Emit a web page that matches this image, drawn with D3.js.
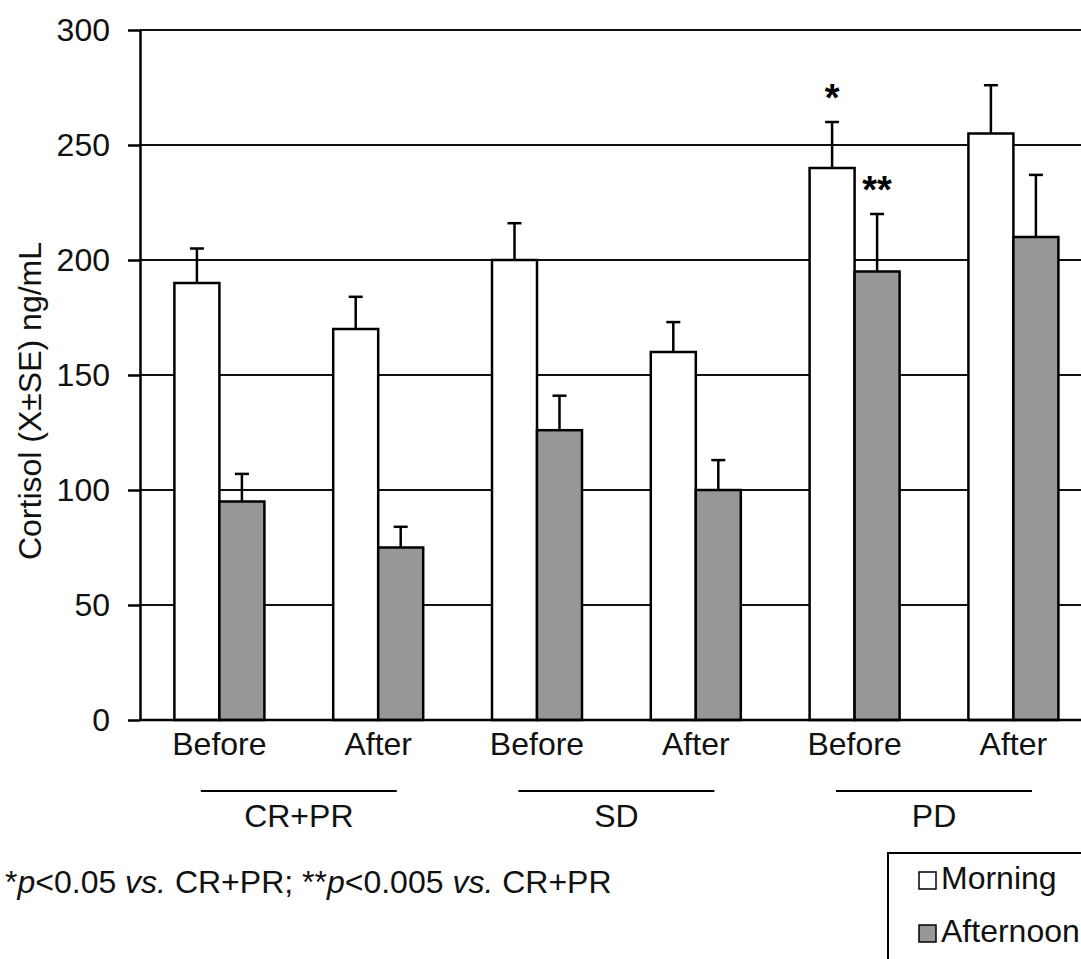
<!DOCTYPE html>
<html lang="en">
<head>
<meta charset="UTF-8">
<title>Cortisol</title>
<script src="https://d3js.org/d3.v7.min.js"></script>
<style>
  body { margin: 0; background: #fff; }
  svg { display: block; font-family: "Liberation Sans", Arial, sans-serif; }
</style>
</head>
<body>
<svg id="chart" width="1081" height="959"></svg>
<script>
// data
const categories = ['Before', 'After', 'Before', 'After', 'Before', 'After'];
const groups = ['CR+PR', 'SD', 'PD'];
const series = ['Morning', 'Afternoon'];
const morning = [190, 170, 200, 160, 240, 255];
const morningErr = [15, 14, 16, 13, 20, 21];
const afternoon = [95, 75, 126, 100, 195, 210];
const afternoonErr = [12, 9, 15, 13, 25, 27];
const yTicks = [0, 50, 100, 150, 200, 250, 300];
// significance marks: [category index, series, label]
const marks = [[4, 'Morning', '*'], [4, 'Afternoon', '**']];

const svg = d3.select('#chart');
const W = 1081;
const FS = 32;
const margin = { left: 140, top: 30, bottom: 720 };
const bandW = 158.8;
const barW = 45;

const x0 = d3.scaleBand()
    .domain(d3.range(categories.length))
    .range([margin.left, margin.left + bandW * categories.length]);
const x1 = d3.scaleBand()
    .domain(series)
    .range([bandW / 2 - barW, bandW / 2 + barW]);
const y = d3.scaleLinear().domain([0, 300]).range([margin.bottom, margin.top]);

const fill = { Morning: '#ffffff', Afternoon: '#979797' };

const rows = categories.map((c, i) => ({
    i, c,
    vals: [
        { s: 'Morning', v: morning[i], e: morningErr[i] },
        { s: 'Afternoon', v: afternoon[i], e: afternoonErr[i] }
    ]
}));

// gridlines
svg.append('g').selectAll('line')
    .data(yTicks.filter(t => t > 0))
    .join('line')
    .attr('x1', margin.left).attr('x2', W)
    .attr('y1', d => y(d)).attr('y2', d => y(d))
    .attr('stroke', '#111').attr('stroke-width', 2);

// bars
const g = svg.append('g').selectAll('g')
    .data(rows)
    .join('g')
    .attr('transform', d => `translate(${x0(d.i)},0)`);

g.selectAll('rect')
    .data(d => d.vals)
    .join('rect')
    .attr('x', d => x1(d.s))
    .attr('y', d => y(d.v))
    .attr('width', x1.bandwidth())
    .attr('height', d => y(0) - y(d.v))
    .attr('fill', d => fill[d.s])
    .attr('stroke', '#000')
    .attr('stroke-width', 2.5);

// error bars (upper only)
const eb = g.selectAll('g.err')
    .data(d => d.vals)
    .join('g').attr('class', 'err');
eb.append('line')
    .attr('x1', d => x1(d.s) + x1.bandwidth() / 2)
    .attr('x2', d => x1(d.s) + x1.bandwidth() / 2)
    .attr('y1', d => y(d.v)).attr('y2', d => y(d.v + d.e))
    .attr('stroke', '#000').attr('stroke-width', 2.5);
eb.append('line')
    .attr('x1', d => x1(d.s) + x1.bandwidth() / 2 - 7)
    .attr('x2', d => x1(d.s) + x1.bandwidth() / 2 + 7)
    .attr('y1', d => y(d.v + d.e)).attr('y2', d => y(d.v + d.e))
    .attr('stroke', '#000').attr('stroke-width', 2.5);

// significance stars
svg.append('g').selectAll('text')
    .data(marks)
    .join('text')
    .attr('x', d => x0(d[0]) + x1(d[1]) + x1.bandwidth() / 2)
    .attr('y', d => {
        const idx = d[0];
        const top = d[1] === 'Morning' ? morning[idx] + morningErr[idx] : afternoon[idx] + afternoonErr[idx];
        return y(top) - 11;
    })
    .attr('text-anchor', 'middle')
    .attr('font-size', 38)
    .attr('font-weight', 'bold')
    .text(d => d[2]);

// y axis
const yAxis = svg.append('g')
    .attr('transform', `translate(${margin.left},0)`)
    .call(d3.axisLeft(y).tickValues(yTicks).tickSize(12).tickPadding(18).tickSizeOuter(0));
yAxis.select('.domain').attr('stroke', '#000').attr('stroke-width', 2.5);
yAxis.selectAll('.tick line').attr('stroke', '#000').attr('stroke-width', 2.5);
yAxis.selectAll('.tick text')
    .attr('font-size', FS)
    .attr('fill', '#111')
    .attr('font-family', '"Liberation Sans", Arial, sans-serif');

// x axis baseline
svg.append('line')
    .attr('x1', margin.left).attr('x2', W)
    .attr('y1', y(0)).attr('y2', y(0))
    .attr('stroke', '#000').attr('stroke-width', 2.5);

// category labels
svg.append('g').selectAll('text')
    .data(rows)
    .join('text')
    .attr('x', d => x0(d.i) + bandW / 2)
    .attr('y', 755)
    .attr('text-anchor', 'middle')
    .attr('font-size', FS)
    .attr('fill', '#111')
    .text(d => d.c);

// group labels with rule above
const gl = svg.append('g').selectAll('g')
    .data(groups)
    .join('g')
    .attr('transform', (d, i) => `translate(${(x0(i * 2) + x0(i * 2 + 1) + bandW) / 2},0)`);
gl.append('line')
    .attr('x1', -98).attr('x2', 98)
    .attr('y1', 791).attr('y2', 791)
    .attr('stroke', '#000').attr('stroke-width', 2);
gl.append('text')
    .attr('y', 827)
    .attr('text-anchor', 'middle')
    .attr('font-size', FS)
    .attr('fill', '#111')
    .text(d => d);

// y axis title
svg.append('text')
    .attr('transform', 'translate(41,401) rotate(-90)')
    .attr('text-anchor', 'middle')
    .attr('font-size', FS)
    .attr('fill', '#111')
    .text('Cortisol (X\u00b1SE) ng/mL');

// footnote
const fn = svg.append('text')
    .attr('x', 5).attr('y', 893)
    .attr('font-size', FS)
    .attr('fill', '#111');
fn.append('tspan').text('*');
fn.append('tspan').attr('font-style', 'italic').text('p');
fn.append('tspan').text('<0.05 ');
fn.append('tspan').attr('font-style', 'italic').text('vs.');
fn.append('tspan').text(' CR+PR; **');
fn.append('tspan').attr('font-style', 'italic').text('p');
fn.append('tspan').text('<0.005 ');
fn.append('tspan').attr('font-style', 'italic').text('vs.');
fn.append('tspan').text(' CR+PR');

// legend
const lg = svg.append('g').attr('transform', 'translate(888,853)');
lg.append('rect')
    .attr('width', 260).attr('height', 140)
    .attr('fill', '#fff').attr('stroke', '#000').attr('stroke-width', 2);
const li = lg.selectAll('g.item')
    .data(series)
    .join('g').attr('class', 'item')
    .attr('transform', (d, i) => `translate(31,${19 + i * 53})`);
li.append('rect')
    .attr('width', 17).attr('height', 17)
    .attr('fill', d => fill[d])
    .attr('stroke', '#000').attr('stroke-width', 1.5);
li.append('text')
    .attr('x', 22).attr('y', 17)
    .attr('font-size', FS)
    .attr('fill', '#111')
    .text(d => d);
</script>
</body>
</html>
